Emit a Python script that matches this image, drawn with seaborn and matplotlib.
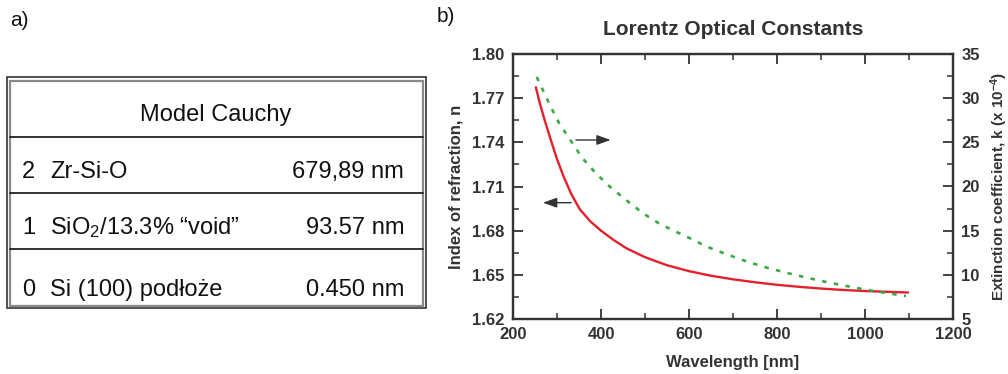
import numpy as np
import pandas as pd
import matplotlib
matplotlib.use("Agg")
import matplotlib.pyplot as plt
import seaborn as sns
from matplotlib.patches import Rectangle
from matplotlib.ticker import MultipleLocator, FormatStrFormatter

# ---- panel a) layer model ----
table_title = "Model Cauchy"
layer_index = ["2", "1", "0"]
layer_name = ["Zr-Si-O", "SiO$_{\\mathrm{2}}$/13.3% \u201cvoid\u201d", "Si (100) pod\u0142o\u017ce"]
layer_thickness = ["679,89 nm", "93.57 nm", "0.450 nm"]

# ---- panel b) Lorentz optical constants ----
n_wavelength = [252, 261, 273, 284, 299, 314, 333, 352, 375, 400, 428, 458, 500,
                549, 600, 648, 699, 754, 801, 852, 899, 951, 1000, 1057, 1098]
refr_index_n = [1.7774, 1.7665, 1.7540, 1.7435, 1.7295, 1.7175, 1.7045, 1.6945,
                1.6865, 1.6800, 1.6738, 1.6680, 1.6620, 1.6566, 1.6525, 1.6495,
                1.6470, 1.6448, 1.6432, 1.6418, 1.6407, 1.6397, 1.6390, 1.6384,
                1.6380]
k_wavelength = [254, 283, 305, 331, 358, 390, 422, 460, 496, 534, 576, 602, 640,
                684, 729, 774, 820, 864, 909, 955, 1002, 1048, 1093]
ext_coeff_k = [32.4, 29.3, 27.15, 25.2, 23.2, 21.4, 19.9, 18.35, 16.95, 15.75,
               14.75, 14.15, 13.2, 12.35, 11.55, 10.85, 10.25, 9.72, 9.22, 8.76,
               8.32, 7.94, 7.6]

sns.set_theme(style="white")
plt.rcParams["font.family"] = ["Liberation Sans", "DejaVu Sans"]
plt.rcParams["mathtext.fontset"] = "custom"
plt.rcParams["mathtext.rm"] = "Liberation Sans"
plt.rcParams["mathtext.it"] = "Liberation Sans:italic"
plt.rcParams["mathtext.bf"] = "Liberation Sans:bold"

W, H = 1008, 374
fig = plt.figure(figsize=(W / 100, H / 100), dpi=100)
fig.patch.set_facecolor("white")

# ---------- panel a) ----------
tab = fig.add_axes([0, 0, 1, 1])
tab.set_xlim(0, W)
tab.set_ylim(H, 0)
tab.axis("off")
tab.text(10, 20, "a)", fontsize=15, ha="left", va="center", color="#111")

# double border: thin black outer frame, grey inner frame
tab.add_patch(Rectangle((7, 77), 419, 231, fill=False, ec="#222", lw=1.1))
tab.add_patch(Rectangle((10, 80.5), 412.5, 225, fill=False, ec="#8a8a8a", lw=1.6))
for y in [137, 193, 249]:
    tab.plot([10, 422.5], [y, y], color="#111", lw=1.2)

txt = dict(fontsize=17, va="center", color="#111")
tab.text(216, 115, table_title, ha="center", **txt)
row_y = [172, 228, 290]
for idx, name, thick, y in zip(layer_index, layer_name, layer_thickness, row_y):
    tab.text(22, y, idx, ha="left", **txt)
    tab.text(50, y, name, ha="left", **txt)
    tab.text(404, y, thick, ha="right", **txt)

# ---------- panel b) ----------
fig.text(437 / W, 1 - 17 / H, "b)", fontsize=15, ha="left", va="center", color="#111")

ink = "#333333"
ax = fig.add_axes([513 / W, 1 - 319 / H, 440 / W, 265 / H])
ax2 = ax.twinx()

df_n = pd.DataFrame({"wavelength": n_wavelength, "n": refr_index_n})
df_k = pd.DataFrame({"wavelength": k_wavelength, "k": ext_coeff_k})
sns.lineplot(data=df_n, x="wavelength", y="n", ax=ax, color="#e3202c", lw=1.7)
sns.lineplot(data=df_k, x="wavelength", y="k", ax=ax2, color="#3aaa45", lw=1.9)
ax2.lines[0].set_dashes((1.7, 2.8))

ax.set_xlim(200, 1200)
ax.set_ylim(1.62, 1.80)
ax2.set_ylim(5, 35)
ax.xaxis.set_major_locator(MultipleLocator(200))
ax.xaxis.set_minor_locator(MultipleLocator(100))
ax.yaxis.set_major_locator(MultipleLocator(0.03))
ax.yaxis.set_minor_locator(MultipleLocator(0.015))
ax2.yaxis.set_major_locator(MultipleLocator(5))
ax2.yaxis.set_minor_locator(MultipleLocator(2.5))
ax.yaxis.set_major_formatter(FormatStrFormatter("%.2f"))

ax.tick_params(axis="both", which="major", direction="in", length=7, width=1.3,
               colors=ink, top=True, left=True, bottom=True, right=False,
               pad=6, labelsize=12)
ax.tick_params(axis="both", which="minor", direction="in", length=4, width=1.1,
               colors=ink, top=True, left=True, bottom=True, right=False)
ax2.tick_params(axis="y", which="major", direction="in", length=7, width=1.3,
                colors=ink, right=True, pad=6, labelsize=12)
ax2.tick_params(axis="y", which="minor", direction="in", length=4, width=1.1,
                colors=ink, right=True)
for a in (ax, ax2):
    for lab in a.get_xticklabels() + a.get_yticklabels():
        lab.set_fontweight("bold")
        lab.set_color(ink)
    for sp in a.spines.values():
        sp.set_visible(True)
        sp.set_color(ink)
        sp.set_linewidth(1.6)

ax.set_title("Lorentz Optical Constants", fontsize=15, color=ink, fontweight="bold",
             pad=14)
ax.set_xlabel("Wavelength [nm]", fontsize=12, color=ink, fontweight="bold", labelpad=9)
ax.set_ylabel("Index of refraction, n", fontsize=12, color=ink, fontweight="bold",
              labelpad=6)
ax2.set_ylabel("Extinction coefficient, k (x 10$^{\\mathbf{-4}}$)", fontsize=11,
               color=ink, fontweight="bold", labelpad=6)

# direction arrows pointing to each curve's axis
arrow = dict(arrowstyle="-|>,head_length=0.7,head_width=0.25", color=ink, lw=1.0,
             shrinkA=0, shrinkB=0)
ax.annotate("", xy=(422, 1.7416), xytext=(343, 1.7416), arrowprops=arrow)
ax.annotate("", xy=(268, 1.6990), xytext=(332, 1.6990), arrowprops=arrow)

fig.savefig("out.png", dpi=100, facecolor="white")
